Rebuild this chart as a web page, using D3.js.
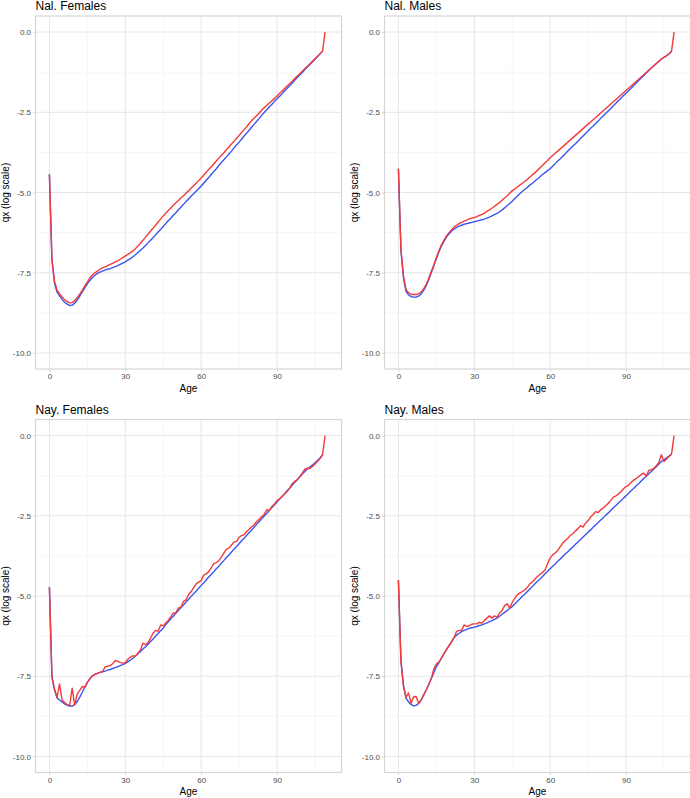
<!DOCTYPE html>
<html><head><meta charset="utf-8">
<script src="https://cdn.jsdelivr.net/npm/d3@7"></script>
<style>body{margin:0;background:#fff}svg{display:block}</style>
</head><body><svg id="c" width="690" height="798"></svg>
<script>
const ageTicks=[0,30,60,90];
const ageMinor=[15,45,75,105];
const qxTicks=[0,-2.5,-5,-7.5,-10];
const qxMinor=[-1.25,-3.75,-6.25,-8.75];
const titles=["Nal. Females","Nal. Males","Nay. Females","Nay. Males"];
const xLabel="Age", yLabel="qx (log scale)";

// observed log qx by age (0..109)
const nalFemObs=[-4.43,-7.08,-7.76,-8.04,-8.15,-8.25,-8.34,-8.40,-8.44,-8.43,
 -8.37,-8.28,-8.17,-8.05,-7.91,-7.79,-7.66,-7.57,-7.50,-7.45,
 -7.39,-7.35,-7.32,-7.28,-7.24,-7.21,-7.16,-7.13,-7.08,-7.03,
 -6.98,-6.93,-6.88,-6.82,-6.75,-6.67,-6.58,-6.49,-6.39,-6.30,
 -6.20,-6.11,-6.02,-5.92,-5.83,-5.73,-5.65,-5.56,-5.48,-5.40,
 -5.32,-5.25,-5.17,-5.10,-5.02,-4.95,-4.87,-4.79,-4.71,-4.63,
 -4.55,-4.46,-4.37,-4.28,-4.20,-4.11,-4.02,-3.93,-3.84,-3.76,
 -3.67,-3.58,-3.49,-3.40,-3.31,-3.22,-3.13,-3.04,-2.95,-2.85,
 -2.76,-2.68,-2.60,-2.52,-2.43,-2.35,-2.28,-2.21,-2.14,-2.06,
 -1.99,-1.91,-1.84,-1.76,-1.68,-1.61,-1.53,-1.45,-1.37,-1.30,
 -1.22,-1.14,-1.07,-0.99,-0.91,-0.83,-0.76,-0.68,-0.60,0];
const nalFemFit=[-4.43,-7.10,-7.82,-8.10,-8.22,-8.33,-8.42,-8.48,-8.52,-8.51,
 -8.45,-8.35,-8.23,-8.10,-7.97,-7.85,-7.74,-7.65,-7.58,-7.52,
 -7.48,-7.45,-7.42,-7.39,-7.37,-7.34,-7.31,-7.28,-7.24,-7.20,
 -7.16,-7.11,-7.06,-7.00,-6.94,-6.87,-6.80,-6.73,-6.65,-6.57,
 -6.49,-6.41,-6.32,-6.23,-6.15,-6.06,-5.97,-5.88,-5.80,-5.71,
 -5.63,-5.54,-5.46,-5.37,-5.29,-5.20,-5.12,-5.04,-4.96,-4.88,
 -4.80,-4.71,-4.62,-4.53,-4.44,-4.35,-4.26,-4.16,-4.07,-3.98,
 -3.89,-3.80,-3.71,-3.61,-3.52,-3.43,-3.34,-3.24,-3.15,-3.06,
 -2.96,-2.87,-2.78,-2.69,-2.59,-2.50,-2.42,-2.33,-2.25,-2.16,
 -2.08,-2.00,-1.92,-1.83,-1.75,-1.67,-1.59,-1.50,-1.42,-1.34,
 -1.26,-1.17,-1.09,-1.01,-0.93,-0.85,-0.76,-0.68,-0.60];
const nalMalObs=[-4.26,-6.77,-7.60,-8.02,-8.12,-8.17,-8.18,-8.18,-8.16,-8.10,
 -8.00,-7.86,-7.67,-7.46,-7.25,-7.03,-6.82,-6.63,-6.49,-6.35,
 -6.25,-6.16,-6.08,-6.02,-5.97,-5.93,-5.89,-5.86,-5.82,-5.80,
 -5.78,-5.75,-5.71,-5.68,-5.64,-5.59,-5.54,-5.49,-5.43,-5.37,
 -5.31,-5.24,-5.17,-5.10,-5.02,-4.95,-4.89,-4.83,-4.77,-4.71,
 -4.65,-4.59,-4.52,-4.45,-4.38,-4.31,-4.23,-4.15,-4.07,-4.00,
 -3.92,-3.85,-3.78,-3.71,-3.64,-3.57,-3.50,-3.43,-3.36,-3.29,
 -3.22,-3.15,-3.08,-3.01,-2.94,-2.87,-2.80,-2.73,-2.66,-2.59,
 -2.52,-2.45,-2.38,-2.31,-2.24,-2.17,-2.10,-2.03,-1.96,-1.89,
 -1.82,-1.75,-1.68,-1.61,-1.54,-1.47,-1.40,-1.33,-1.26,-1.19,
 -1.12,-1.05,-0.98,-0.91,-0.84,-0.79,-0.74,-0.68,-0.60,0];
const nalMalFit=[-4.26,-6.80,-7.66,-8.08,-8.19,-8.24,-8.26,-8.26,-8.23,-8.16,
 -8.05,-7.90,-7.71,-7.50,-7.28,-7.06,-6.85,-6.67,-6.52,-6.39,
 -6.29,-6.21,-6.14,-6.09,-6.05,-6.02,-5.99,-5.97,-5.95,-5.93,
 -5.91,-5.89,-5.87,-5.85,-5.83,-5.80,-5.77,-5.73,-5.69,-5.65,
 -5.60,-5.54,-5.48,-5.41,-5.34,-5.27,-5.19,-5.12,-5.04,-4.97,
 -4.90,-4.84,-4.77,-4.71,-4.64,-4.58,-4.51,-4.44,-4.38,-4.32,
 -4.26,-4.18,-4.10,-4.02,-3.95,-3.87,-3.79,-3.71,-3.63,-3.55,
 -3.48,-3.40,-3.32,-3.24,-3.16,-3.08,-3.00,-2.93,-2.85,-2.77,
 -2.69,-2.61,-2.53,-2.46,-2.38,-2.30,-2.22,-2.14,-2.06,-1.98,
 -1.91,-1.83,-1.75,-1.67,-1.59,-1.51,-1.43,-1.36,-1.28,-1.20,
 -1.12,-1.05,-0.98,-0.91,-0.84,-0.79,-0.74,-0.68,-0.60];
const nayFemObs=[-4.72,-7.55,-7.92,-8.17,-7.74,-8.24,-8.32,-8.38,-8.42,-7.87,
 -8.40,-8.05,-7.94,-7.82,-7.85,-7.69,-7.58,-7.49,-7.44,-7.41,
 -7.38,-7.36,-7.21,-7.19,-7.17,-7.11,-7.01,-7.04,-7.07,-7.09,
 -7.08,-6.97,-6.91,-6.86,-6.88,-6.78,-6.68,-6.47,-6.52,-6.45,
 -6.31,-6.16,-6.07,-6.10,-5.90,-5.93,-5.84,-5.76,-5.64,-5.53,
 -5.52,-5.38,-5.35,-5.17,-5.12,-4.96,-4.87,-4.75,-4.62,-4.57,
 -4.52,-4.35,-4.31,-4.24,-4.12,-3.99,-3.96,-3.90,-3.79,-3.66,
 -3.54,-3.51,-3.41,-3.32,-3.30,-3.17,-3.12,-3.09,-2.99,-2.92,
 -2.84,-2.77,-2.68,-2.60,-2.52,-2.45,-2.31,-2.34,-2.21,-2.13,
 -2.03,-1.98,-1.90,-1.82,-1.74,-1.64,-1.50,-1.43,-1.38,-1.28,
 -1.17,-1.05,-1.02,-1.03,-0.96,-0.89,-0.81,-0.72,-0.60,0];
const nayFemFit=[-4.72,-7.50,-7.90,-8.16,-8.24,-8.30,-8.36,-8.40,-8.43,-8.43,
 -8.38,-8.29,-8.15,-8.00,-7.84,-7.69,-7.58,-7.49,-7.44,-7.41,
 -7.38,-7.36,-7.34,-7.31,-7.29,-7.26,-7.23,-7.20,-7.17,-7.14,
 -7.10,-7.05,-7.00,-6.94,-6.87,-6.80,-6.73,-6.65,-6.58,-6.50,
 -6.42,-6.34,-6.25,-6.17,-6.08,-6.00,-5.89,-5.80,-5.71,-5.63,
 -5.54,-5.45,-5.37,-5.28,-5.19,-5.11,-5.02,-4.93,-4.85,-4.76,
 -4.67,-4.59,-4.50,-4.41,-4.33,-4.24,-4.15,-4.07,-3.98,-3.89,
 -3.80,-3.72,-3.63,-3.54,-3.46,-3.37,-3.28,-3.20,-3.11,-3.02,
 -2.94,-2.85,-2.76,-2.68,-2.59,-2.50,-2.42,-2.33,-2.24,-2.16,
 -2.07,-1.98,-1.90,-1.81,-1.72,-1.64,-1.55,-1.46,-1.38,-1.29,
 -1.20,-1.12,-1.04,-0.98,-0.92,-0.85,-0.78,-0.70,-0.60];
const nayMalObs=[-4.50,-7.05,-7.82,-8.15,-8.02,-8.34,-8.14,-8.13,-8.34,-8.24,
 -8.08,-7.93,-7.76,-7.57,-7.28,-7.12,-7.06,-6.94,-6.80,-6.67,
 -6.55,-6.43,-6.30,-6.10,-6.07,-6.07,-5.90,-5.95,-5.93,-5.88,
 -5.87,-5.87,-5.82,-5.84,-5.76,-5.69,-5.62,-5.69,-5.62,-5.66,
 -5.53,-5.45,-5.30,-5.24,-5.38,-5.20,-5.07,-4.96,-4.91,-4.86,
 -4.81,-4.73,-4.62,-4.56,-4.47,-4.39,-4.32,-4.27,-4.18,-3.99,
 -3.82,-3.72,-3.66,-3.58,-3.46,-3.35,-3.27,-3.20,-3.11,-3.06,
 -2.97,-2.90,-2.81,-2.85,-2.73,-2.65,-2.54,-2.46,-2.37,-2.40,
 -2.31,-2.26,-2.19,-2.11,-2.02,-1.92,-1.88,-1.82,-1.75,-1.66,
 -1.59,-1.55,-1.46,-1.39,-1.34,-1.28,-1.22,-1.17,-1.26,-1.09,
 -1.07,-1.02,-0.94,-0.84,-0.60,-0.81,-0.74,-0.65,-0.58,0];
const nayMalFit=[-4.50,-7.00,-7.78,-8.18,-8.30,-8.38,-8.42,-8.41,-8.35,-8.24,
 -8.08,-7.93,-7.76,-7.57,-7.39,-7.20,-7.08,-6.94,-6.80,-6.67,
 -6.55,-6.43,-6.30,-6.22,-6.16,-6.11,-6.07,-6.04,-6.01,-5.99,
 -5.97,-5.95,-5.92,-5.90,-5.87,-5.84,-5.80,-5.77,-5.73,-5.69,
 -5.63,-5.57,-5.51,-5.45,-5.39,-5.33,-5.25,-5.17,-5.09,-5.01,
 -4.94,-4.86,-4.78,-4.70,-4.62,-4.54,-4.47,-4.39,-4.31,-4.23,
 -4.15,-4.07,-4.00,-3.92,-3.85,-3.77,-3.69,-3.62,-3.54,-3.47,
 -3.39,-3.32,-3.24,-3.16,-3.09,-3.01,-2.94,-2.86,-2.78,-2.71,
 -2.63,-2.56,-2.48,-2.41,-2.33,-2.25,-2.18,-2.10,-2.03,-1.95,
 -1.88,-1.80,-1.72,-1.65,-1.57,-1.50,-1.42,-1.34,-1.27,-1.19,
 -1.12,-1.04,-0.97,-0.89,-0.81,-0.75,-0.70,-0.64,-0.58];

const observed=[nalFemObs,nalMalObs,nayFemObs,nayMalObs];
const fitted=[nalFemFit,nalMalFit,nayFemFit,nayMalFit];

const font='"Liberation Sans", Arial, Helvetica, sans-serif';
const svg=d3.select("#c");
const PW=306, PH=353;
const lefts=[35.5,384.5], tops=[16,419.5];
const RED="#f23a3a", BLUE="#3a55ee";

titles.forEach((t,k)=>{
  const px=lefts[k%2], py=tops[Math.floor(k/2)];
  const g=svg.append("g").attr("transform",`translate(${px},${py})`);
  const x=d3.scaleLinear().domain([-5.5,115.5]).range([0,PW]);
  const y=d3.scaleLinear().domain([-10.5,0.5]).range([PH,0]);
  // grid
  g.selectAll(".vmin").data(ageMinor).join("line")
    .attr("x1",d=>x(d)).attr("x2",d=>x(d)).attr("y1",0).attr("y2",PH)
    .attr("stroke","#f0f0f0").attr("stroke-width",0.6);
  g.selectAll(".hmin").data(qxMinor).join("line").attr("class","hmin")
    .attr("y1",d=>y(d)).attr("y2",d=>y(d)).attr("x1",0).attr("x2",PW)
    .attr("stroke","#f0f0f0").attr("stroke-width",0.6);
  g.selectAll(".vmaj").data(ageTicks).join("line").attr("class","vmaj")
    .attr("x1",d=>x(d)).attr("x2",d=>x(d)).attr("y1",0).attr("y2",PH)
    .attr("stroke","#e6e6e6").attr("stroke-width",1);
  g.selectAll(".hmaj").data(qxTicks).join("line").attr("class","hmaj")
    .attr("y1",d=>y(d)).attr("y2",d=>y(d)).attr("x1",0).attr("x2",PW)
    .attr("stroke","#e6e6e6").attr("stroke-width",1);
  // lines
  const line=d3.line().x((d,i)=>x(i)).y(d=>y(d));
  g.append("path").datum(fitted[k]).attr("d",line).attr("fill","none")
    .attr("stroke",BLUE).attr("stroke-width",1.4).attr("stroke-linejoin","round");
  g.append("path").datum(observed[k]).attr("d",line).attr("fill","none")
    .attr("stroke",RED).attr("stroke-width",1.4).attr("stroke-linejoin","round");
  // border
  g.append("rect").attr("x",0).attr("y",0).attr("width",PW).attr("height",PH)
    .attr("fill","none").attr("stroke","#d6d6d6").attr("stroke-width",1.2);
  // axes
  const xa=g.append("g").attr("transform",`translate(0,${PH})`)
    .call(d3.axisBottom(x).tickValues(ageTicks).tickSize(2.5).tickPadding(2).tickFormat(d3.format("d")));
  const ya=g.append("g").call(d3.axisLeft(y).tickValues(qxTicks).tickSize(2.5).tickPadding(2).tickFormat(d3.format(".1f")));
  [xa,ya].forEach(a=>{
    a.select(".domain").remove();
    a.selectAll(".tick line").attr("stroke","#d6d6d6");
    a.selectAll(".tick text").attr("fill","#4d4d4d").style("font-family",font).style("font-size","8px");
  });
  ya.selectAll(".tick text").text(d=>d3.format(".1f")(d).replace("−","-"));
  // titles
  g.append("text").attr("x",0).attr("y",-6).text(t)
    .style("font-family",font).style("font-size","12px").attr("fill","#000");
  g.append("text").attr("x",PW/2).attr("y",PH+22.5).attr("text-anchor","middle").text(xLabel)
    .style("font-family",font).style("font-size","10px").attr("fill","#000");
  g.append("text").attr("transform",`translate(${-27},${PH/2}) rotate(-90)`).attr("text-anchor","middle").text(yLabel)
    .style("font-family",font).style("font-size","10px").attr("fill","#000");
});
</script></body></html>
